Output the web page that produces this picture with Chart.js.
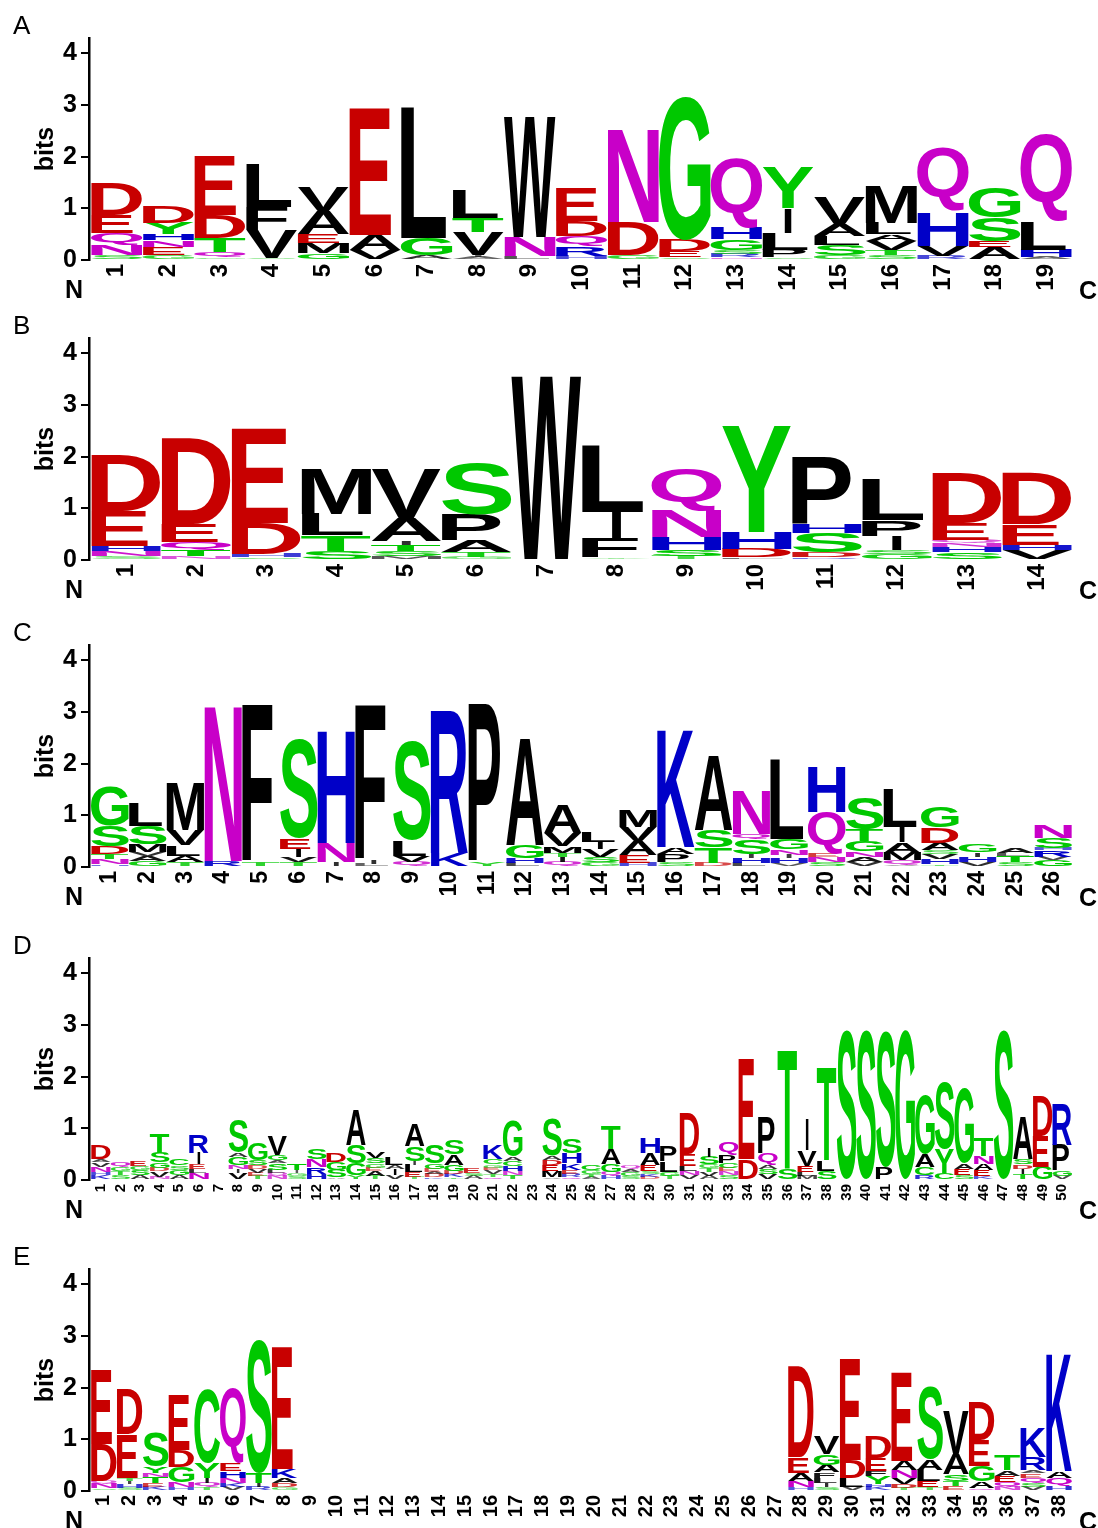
<!DOCTYPE html>
<html><head><meta charset="utf-8">
<script src="https://cdn.jsdelivr.net/npm/chart.js@4.4.1/dist/chart.umd.min.js"></script>
<style>
html,body{margin:0;padding:0;background:#fff;width:1098px;height:1528px;overflow:hidden;position:relative;}
canvas{position:absolute;left:0;}
</style></head><body>
<canvas id="cA" width="1098" height="300" style="top:0px"></canvas>
<canvas id="cB" width="1098" height="300" style="top:300px"></canvas>
<canvas id="cC" width="1098" height="300" style="top:607px"></canvas>
<canvas id="cD" width="1098" height="300" style="top:920px"></canvas>
<canvas id="cE" width="1098" height="300" style="top:1231px"></canvas>
<script>
// ---------- tick labels (positions) ----------
const posA = ['1','2','3','4','5','6','7','8','9','10','11','12','13','14','15','16','17','18','19'];
const posB = ['1','2','3','4','5','6','7','8','9','10','11','12','13','14'];
const posC = ['1','2','3','4','5','6','7','8','9','10','11','12','13','14','15','16','17','18','19','20','21','22','23','24','25','26'];
const posD = ['1','2','3','4','5','6','7','8','9','10','11','12','13','14','15','16','17','18','19','20','21','22','23','24','25','26','27','28','29','30','31','32','33','34','35','36','37','38','39','40','41','42','43','44','45','46','47','48','49','50'];
const posE = ['1','2','3','4','5','6','7','8','9','10','11','12','13','14','15','16','17','18','19','20','21','22','23','24','25','26','27','28','29','30','31','32','33','34','35','36','37','38'];
const yTicks = [0, 1, 2, 3, 4];

// ---------- letter stacks (bottom -> top), [residue, bits] ----------
const stacksA = [
 [['S',.10],['N',.20],['Q',.23],['E',.34],['D',.61]],
 [['G',.10],['E',.15],['N',.13],['H',.12],['Y',.21],['D',.32]],
 [['G',.05],['Q',.10],['T',.27],['D',.45],['E',1.13]],
 [['S',.03],['V',.54],['F',.45],['L',.85]],
 [['G',.13],['M',.20],['E',.18],['A',.44],['V',.46]],
 [['V',.20],['A',.29],['E',2.46]],
 [['A',.10],['G',.33],['L',2.54]],
 [['A',.06],['I',.04],['V',.45],['T',.27],['L',.54]],
 [['L',.07],['N',.37],['W',2.33]],
 [['H',.08],['R',.18],['Q',.20],['D',.30],['E',.64]],
 [['G',.10],['D',.64],['N',1.82]],
 [['S',.05],['E',.12],['D',.22],['G',2.78]],
 [['N',.05],['R',.07],['S',.08],['G',.20],['H',.22],['Q',1.35]],
 [['S',.05],['P',.15],['L',.32],['I',.48],['Y',.80]],
 [['G',.10],['S',.20],['L',.17],['A',.23],['V',.53]],
 [['S',.10],['T',.10],['V',.17],['A',.13],['L',.22],['M',.73]],
 [['R',.08],['V',.20],['H',.66],['Q',1.22]],
 [['A',.25],['E',.12],['S',.46],['G',.59]],
 [['A',.06],['H',.14],['L',.55],['Q',1.67]]
];
const stacksB = [
 [['S',.07],['N',.10],['H',.10],['E',.67],['D',1.10]],
 [['N',.07],['T',.13],['Q',.15],['E',.35],['D',1.66]],
 [['S',.05],['H',.07],['D',.60],['E',1.83]],
 [['S',.18],['T',.30],['L',.41],['M',.88]],
 [['M',.07],['S',.10],['T',.12],['I',.08],['A',.45],['V',.95]],
 [['G',.06],['T',.10],['A',.22],['P',.50],['S',.99]],
 [['W',3.56]],
 [['Y',.05],['F',.38],['I',.50],['L',1.30]],
 [['T',.08],['S',.12],['H',.24],['N',.53],['Q',.80]],
 [['L',.05],['D',.17],['H',.33],['Y',2.07]],
 [['R',.05],['D',.10],['S',.38],['H',.17],['P',1.30]],
 [['G',.12],['S',.08],['I',.27],['P',.30],['L',.80]],
 [['S',.15],['H',.10],['N',.08],['Q',.05],['E',.33],['D',.97]],
 [['V',.20],['H',.10],['E',.40],['D',.98]]
];
const stacksC = [
 [['H',.05],['N',.10],['T',.10],['D',.15],['S',.40],['G',.76]],
 [['G',.12],['A',.10],['V',.08],['M',.15],['S',.35],['L',.44]],
 [['T',.10],['A',.12],['L',.20],['V',.30],['M',.93]],
 [['R',.12],['N',3.03]],
 [['T',.10],['F',3.05]],
 [['T',.10],['V',.10],['I',.15],['E',.20],['S',1.92]],
 [['I',.10],['N',.37],['H',2.20]],
 [['L',.06],['I',.08],['F',2.99]],
 [['Q',.10],['V',.12],['L',.30],['S',1.91]],
 [['K',.27],['R',2.75]],
 [['Y',.10],['P',3.08]],
 [['L',.08],['H',.10],['G',.25],['A',2.10]],
 [['Q',.10],['I',.10],['T',.08],['M',.12],['V',.25],['A',.55]],
 [['G',.10],['S',.10],['V',.15],['I',.14],['L',.20]],
 [['H',.08],['E',.15],['A',.27],['V',.28],['M',.32]],
 [['S',.10],['P',.15],['A',.13],['K',2.30]],
 [['D',.08],['T',.30],['S',.33],['A',1.46]],
 [['L',.08],['H',.10],['I',.07],['S',.28],['Q',.10],['N',.86]],
 [['V',.07],['H',.10],['I',.07],['N',.10],['G',.20],['L',1.53]],
 [['S',.10],['N',.10],['E',.07],['Q',.79],['H',.88]],
 [['V',.10],['A',.10],['N',.10],['G',.20],['T',.22],['S',.61]],
 [['V',.05],['Q',.08],['M',.15],['A',.20],['I',.30],['L',.75]],
 [['T',.05],['H',.10],['V',.10],['S',.07],['A',.14],['D',.30],['G',.41]],
 [['V',.10],['H',.10],['I',.08],['G',.15]],
 [['S',.10],['T',.12],['L',.05],['A',.10]],
 [['G',.14],['V',.06],['R',.12],['H',.05],['S',.20],['N',.25]]
];
const stacksD = [
 [['K',.10],['H',.06],['N',.10],['V',.08],['A',.06],['D',.28]],
 [['S',.10],['T',.08],['G',.08],['Q',.09]],
 [['A',.10],['S',.10],['G',.08],['E',.10]],
 [['N',.065],['V',.10],['D',.065],['G',.11],['S',.19],['T',.37]],
 [['A',.10],['G',.10],['S',.08],['C',.12]],
 [['N',.14],['L',.08],['E',.09],['I',.22],['R',.34]],
 [],
 [['V',.13],['I',.08],['N',.08],['G',.16],['A',.08],['S',.63]],
 [['T',.08],['E',.06],['V',.08],['D',.06],['S',.10],['G',.33]],
 [['N',.08],['Q',.05],['L',.07],['S',.12],['A',.06],['G',.10],['V',.36]],
 [['S',.08],['G',.06],['I',.05],['T',.13]],
 [['H',.12],['R',.13],['N',.15],['S',.20]],
 [['A',.05],['S',.15],['G',.14],['D',.18]],
 [['Y',.10],['G',.22],['S',.36],['A',.68]],
 [['T',.08],['A',.10],['E',.06],['G',.08],['S',.10],['V',.13]],
 [['V',.10],['I',.12],['A',.08],['L',.15]],
 [['T',.06],['E',.10],['L',.14],['I',.07],['S',.28],['A',.42]],
 [['K',.05],['D',.06],['A',.05],['E',.06],['G',.10],['S',.36]],
 [['T',.05],['K',.07],['D',.06],['G',.12],['A',.20],['S',.28]],
 [['A',.08],['S',.06],['E',.09]],
 [['Q',.06],['T',.06],['V',.07],['E',.05],['G',.06],['C',.10],['K',.28]],
 [['T',.10],['N',.07],['H',.10],['C',.10],['A',.08],['G',.68]],
 [],
 [['V',.05],['M',.12],['E',.12],['D',.10],['A',.08],['S',.70]],
 [['Q',.06],['R',.06],['E',.08],['K',.12],['H',.20],['S',.29]],
 [['A',.06],['T',.06],['G',.08],['C',.11]],
 [['H',.08],['Q',.08],['G',.15],['A',.30],['T',.46]],
 [['S',.08],['G',.08],['A',.06],['Q',.07]],
 [['D',.06],['K',.06],['S',.06],['E',.12],['A',.22],['H',.29]],
 [['T',.08],['G',.08],['L',.20],['P',.29]],
 [['V',.10],['N',.08],['L',.10],['E',.22],['D',.80]],
 [['A',.08],['V',.08],['T',.08],['G',.07],['S',.14],['I',.18]],
 [['S',.10],['N',.07],['E',.06],['C',.10],['P',.16],['Q',.25]],
 [['D',.40],['E',1.93]],
 [['V',.12],['S',.10],['A',.08],['Q',.22],['P',.71]],
 [['S',.22],['T',2.32]],
 [['M',.08],['L',.08],['E',.12],['V',.30],['I',.59]],
 [['S',.18],['L',.20],['T',1.82]],
 [['S',2.91]],
 [['S',2.91]],
 [['P',.25],['S',2.63]],
 [['G',2.91]],
 [['R',.10],['C',.16],['A',.24],['G',1.15]],
 [['C',.14],['Y',.47],['S',1.30]],
 [['S',.10],['E',.12],['A',.10],['G',1.46]],
 [['K',.07],['E',.12],['A',.12],['N',.15],['T',.35]],
 [['S',2.91]],
 [['T',.12],['I',.10],['D',.08],['S',.10],['A',.83]],
 [['G',.26],['E',.60],['D',.76]],
 [['V',.08],['G',.10],['P',.50],['R',.78]]
];
const stacksE = [
 [['S',.05],['N',.10],['Q',.05],['D',.72],['E',1.43]],
 [['S',.06],['H',.07],['I',.06],['T',.06],['E',.85],['D',.86]],
 [['K',.08],['E',.07],['T',.12],['N',.08],['Y',.12],['S',.65]],
 [['H',.07],['N',.10],['G',.30],['D',.33],['E',1.06]],
 [['T',.07],['Q',.08],['I',.10],['Y',.30],['C',1.44]],
 [['V',.08],['K',.08],['N',.10],['H',.12],['E',.15],['Q',1.46]],
 [['R',.08],['I',.08],['T',.20],['S',2.59]],
 [['G',.07],['D',.08],['A',.10],['K',.18],['E',2.35]],
 [],[],[],[],[],[],[],[],[],[],[],[],[],[],[],[],[],[],[],
 [['H',.07],['N',.13],['A',.15],['E',.30],['D',1.77]],
 [['S',.08],['I',.08],['L',.10],['F',.10],['A',.15],['G',.20],['V',.34]],
 [['V',.08],['L',.18],['D',.35],['E',1.97]],
 [['K',.08],['H',.06],['Y',.14],['F',.10],['E',.25],['D',.42]],
 [['T',.06],['D',.08],['V',.12],['N',.15],['A',.17],['E',1.70]],
 [['T',.07],['E',.12],['L',.22],['A',.20],['S',1.39]],
 [['E',.10],['T',.10],['S',.12],['A',.40],['V',.85]],
 [['Q',.06],['A',.12],['G',.30],['E',.50],['D',.75]],
 [['N',.08],['Q',.10],['E',.12],['A',.10],['T',.30]],
 [['V',.08],['S',.08],['Q',.10],['E',.08],['A',.06],['R',.25],['K',.57]],
 [['H',.10],['Q',.15],['A',.13],['K',2.30]]
];

// ---------- styling ----------
const COLORS = {G:'#00c800',S:'#00c800',T:'#00c800',Y:'#00c800',C:'#00c800',
  N:'#c800c8',Q:'#c800c8',K:'#0000c8',R:'#0000c8',H:'#0000c8',D:'#c80000',E:'#c80000'};
const WIDTH_FACTOR = {E:0.81, F:0.81, L:0.89, P:0.85, I:0.14};
const GLYPH_FONT = "bold 100px 'Liberation Sans', Arial, sans-serif";
const glyphCache = {};
function glyph(ctx, ch) {
  if (!glyphCache[ch]) {
    ctx.save();
    ctx.font = GLYPH_FONT;
    const m = ctx.measureText(ch);
    glyphCache[ch] = {l: m.actualBoundingBoxLeft, r: m.actualBoundingBoxRight,
                      a: m.actualBoundingBoxAscent, d: m.actualBoundingBoxDescent};
    ctx.restore();
  }
  return glyphCache[ch];
}
const logoPlugin = {
  id: 'logoLetters',
  afterDatasetsDraw(chart) {
    const ctx = chart.ctx;
    chart.data.datasets.forEach((ds, k) => {
      const meta = chart.getDatasetMeta(k);
      meta.data.forEach((el, i) => {
        const ch = ds.letters[i];
        if (!ch) return;
        const top = Math.min(el.y, el.base), bot = Math.max(el.y, el.base);
        const h = bot - top;
        if (h < 0.3) return;
        const g = glyph(ctx, ch);
        const gw = g.l + g.r, gh = g.a + g.d;
        const w = el.width * (WIDTH_FACTOR[ch] || 1);
        const x0 = ch === 'I' ? el.x - w / 2 : el.x - el.width / 2;
        ctx.save();
        ctx.font = GLYPH_FONT;
        ctx.fillStyle = COLORS[ch] || '#000';
        if (h < 6) ctx.globalAlpha = 0.4 + 0.6 * (h / 6);
        ctx.textAlign = 'left';
        ctx.textBaseline = 'alphabetic';
        ctx.translate(x0, top);
        ctx.scale(w / gw, h / gh);
        ctx.fillText(ch, g.l, g.a);
        ctx.restore();
      });
    });
  }
};
const textPlugin = {
  id: 'panelText',
  afterDraw(chart, args, opts) {
    const ctx = chart.ctx, ca = chart.chartArea;
    ctx.save();
    ctx.fillStyle = '#000';
    ctx.textBaseline = 'middle';
    ctx.textAlign = 'left';
    ctx.font = "26px 'Liberation Sans', Arial, sans-serif";
    ctx.fillText(opts.name, 13, 27);
    ctx.font = "bold 25px 'Liberation Sans', Arial, sans-serif";
    ctx.textAlign = 'center';
    ctx.fillText('N', 74, ca.bottom + 31);
    ctx.fillText('C', 1088, ca.bottom + 32);
    ctx.restore();
  }
};

function makeLogo(id, name, labels, stacks, tickSize) {
  const n = labels.length;
  const unit = 981 / n;
  const xMax = n + 0.5;
  const xMin = xMax - 983 / unit;
  const layers = Math.max(...stacks.map(s => s.length));
  const datasets = [];
  for (let k = 0; k < layers; k++) {
    datasets.push({
      data: stacks.map((s, i) => ({x: i + 1, y: s[k] ? s[k][1] : 0})),
      letters: stacks.map(s => s[k] ? s[k][0] : null),
      backgroundColor: 'rgba(0,0,0,0)',
      borderWidth: 0,
      barPercentage: 1,
      categoryPercentage: 1
    });
  }
  new Chart(document.getElementById(id), {
    type: 'bar',
    data: {datasets},
    plugins: [logoPlugin, textPlugin],
    options: {
      responsive: false,
      animation: false,
      events: [],
      layout: {padding: {top: 38, right: 26, bottom: 0, left: 0}},
      plugins: {legend: {display: false}, tooltip: {enabled: false}, panelText: {name}},
      scales: {
        x: {
          type: 'linear', stacked: true, offset: false, bounds: 'data',
          min: xMin, max: xMax,
          afterBuildTicks: (s) => { s.ticks = labels.map((_, i) => ({value: i + 1})); },
          afterFit: (s) => { s.height = 40; },
          grid: {display: false, drawTicks: false},
          border: {display: false},
          ticks: {
            autoSkip: false, maxRotation: 90, minRotation: 90, padding: 4,
            color: '#000',
            font: {family: "'Liberation Sans', Arial, sans-serif", weight: 'bold', size: tickSize},
            callback: (v, i) => labels[i]
          }
        },
        y: {
          stacked: true, min: 0, max: 4.3,
          afterBuildTicks: (s) => { s.ticks = yTicks.map(v => ({value: v})); },
          afterFit: (s) => { s.width = 89; },
          grid: {display: true, drawOnChartArea: false, drawTicks: true, tickLength: 8, color: '#000', lineWidth: 2},
          border: {display: true, color: '#000', width: 2.5},
          ticks: {
            padding: 4, color: '#000',
            font: {family: "'Liberation Sans', Arial, sans-serif", weight: 'bold', size: 25}
          },
          title: {
            display: true, text: 'bits', color: '#000',
            padding: {top: 31, bottom: 0},
            font: {family: "'Liberation Sans', Arial, sans-serif", weight: 'bold', size: 25}
          }
        }
      }
    }
  });
}

makeLogo('cA', 'A', posA, stacksA, 24);
makeLogo('cB', 'B', posB, stacksB, 24);
makeLogo('cC', 'C', posC, stacksC, 23);
makeLogo('cD', 'D', posD, stacksD, 15);
makeLogo('cE', 'E', posE, stacksE, 20);
</script>
</body></html>
